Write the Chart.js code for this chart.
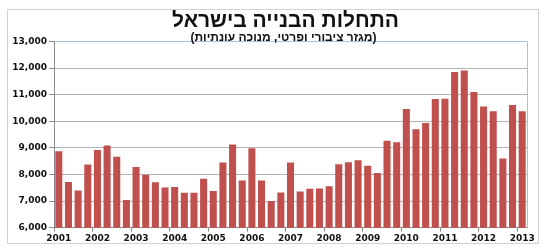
<!DOCTYPE html>
<html>
<head>
<meta charset="utf-8">
<script src="https://cdn.jsdelivr.net/npm/chart.js@4"></script>
<style>
  html, body { margin: 0; padding: 0; background: #fff; }
  #frame {
    position: absolute; left: 7px; top: 9px;
    width: 530px; height: 233px;
    border: 1px solid #d2d2d2;
  }
  #grafico { display: block; }
</style>
</head>
<body>
<div id="frame"><canvas id="grafico" width="530" height="233"></canvas></div>
<script>
// titulos
const tituloTexto = "התחלות הבנייה בישראל";
const subtituloTexto = "(מגזר ציבורי ופרטי, מנוכה עונתיות)";

// categorias: trimestres 2001 T1 .. 2013 T1
const anos = [2001, 2002, 2003, 2004, 2005, 2006, 2007, 2008, 2009, 2010, 2011, 2012, 2013];
const trimestres = ["Q1", "Q2", "Q3", "Q4"];

// valores
const inicios = [
    8870, 7720, 7400, 8380,
    8920, 9090, 8670, 7040,
    8280, 7990, 7710, 7510,
    7530, 7310, 7310, 7840,
    7380, 8450, 9130, 7770,
    8990, 7770, 7000, 7320,
    8450, 7360, 7460, 7470,
    7560, 8390, 8460, 8540,
    8330, 8060, 9270, 9210,
    10460, 9700, 9940, 10840,
    10850, 11850, 11910, 11100,
    10560, 10380, 8600, 10610,
    10380
];

// eixo y
const yMin = 6000;
const yMax = 13000;
const yPasso = 1000;

const labels = [];
anos.forEach((a) => trimestres.forEach((q) => labels.push(a + " " + q)));
labels.length = inicios.length;

// titulo, subtitulo e borda direita da area do grafico
const decoracao = {
    id: "decoracao",
    afterDraw(chart) {
        const { ctx, chartArea } = chart;
        ctx.save();
        ctx.strokeStyle = "#a9c0de";
        ctx.lineWidth = 1;
        ctx.beginPath();
        ctx.moveTo(Math.round(chartArea.right) + 0.5, chartArea.top);
        ctx.lineTo(Math.round(chartArea.right) + 0.5, chartArea.bottom);
        ctx.stroke();

        const cx = (chartArea.left + chartArea.right) / 2 - 5;
        ctx.fillStyle = "#111";
        ctx.textAlign = "center";
        ctx.textBaseline = "middle";
        ctx.direction = "rtl";
        ctx.font = "bold 21px 'Liberation Sans'";
        ctx.fillText(tituloTexto, cx, 11.5);
        ctx.font = "bold 12px 'Liberation Sans'";
        ctx.fillText(subtituloTexto, cx - 2, 27.5);
        ctx.restore();
    }
};

new Chart(document.getElementById("grafico"), {
    type: "bar",
    data: {
        labels: labels,
        datasets: [{
            data: inicios,
            backgroundColor: "#c0504d",
            borderWidth: 0,
            barPercentage: 0.73,
            categoryPercentage: 1.0,
        }]
    },
    options: {
        responsive: false,
        animation: false,
        layout: { padding: { left: 0, right: 11, top: 31.5, bottom: 0 } },
        plugins: {
            legend: { display: false },
            tooltip: { enabled: false }
        },
        scales: {
            x: {
                afterFit: (s) => { s.height = 15.3; },
                border: { display: true, color: "#8c8c8c" },
                grid: {
                    drawOnChartArea: false,
                    drawTicks: true,
                    tickLength: 4,
                    color: (c) => (c.index % 4 === 0 ? "#8c8c8c" : "rgba(0,0,0,0)")
                },
                ticks: {
                    autoSkip: false,
                    maxRotation: 0,
                    minRotation: 0,
                    padding: 2,
                    color: "#111",
                    font: { family: "DejaVu Sans", size: 9, weight: "bold" },
                    callback: function (val) {
                        const l = this.getLabelForValue(val);
                        return l.endsWith("Q1") ? l.slice(0, 4) : "";
                    }
                }
            },
            y: {
                min: yMin,
                max: yMax,
                afterFit: (s) => { s.width = 46; },
                border: { display: true, color: "#8c8c8c" },
                grid: {
                    color: (c) => (c.tick && c.tick.value === yMax ? "#a9c0de" : "#b4b4b4"),
                    tickColor: "#8c8c8c",
                    tickLength: 5
                },
                ticks: {
                    stepSize: yPasso,
                    padding: 2,
                    color: "#111",
                    font: { family: "DejaVu Sans", size: 9, weight: "bold" },
                    callback: (val) => val.toLocaleString("en-US")
                }
            }
        }
    },
    plugins: [decoracao]
});
</script>
</body>
</html>
